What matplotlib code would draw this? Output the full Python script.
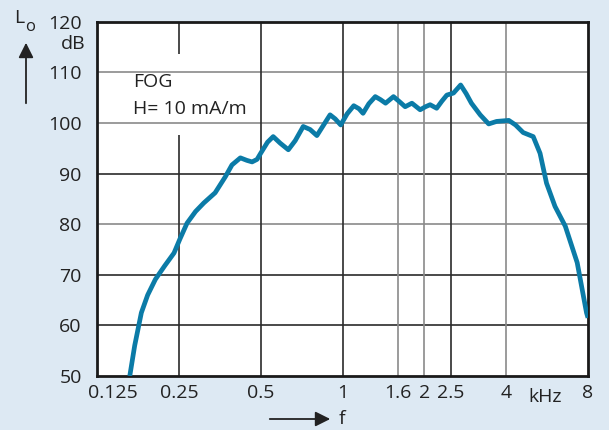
import matplotlib
matplotlib.use("Agg")
import matplotlib.pyplot as plt
import matplotlib.transforms as mtrans

# frequency (kHz) vs level (dB)
freq = [0.165, 0.172, 0.182, 0.192, 0.205, 0.222, 0.24, 0.252, 0.268, 0.288,
        0.309, 0.34, 0.371, 0.392, 0.421, 0.445, 0.465, 0.485, 0.5, 0.53,
        0.556, 0.59, 0.632, 0.67, 0.717, 0.76, 0.805, 0.85, 0.90, 0.94,
        0.985, 1.04, 1.10, 1.15, 1.19, 1.25, 1.32, 1.38, 1.44, 1.54,
        1.62, 1.70, 1.80, 1.93, 2.02, 2.1, 2.22, 2.32, 2.42, 2.56,
        2.72, 2.85, 2.98, 3.21, 3.45, 3.69, 4.09, 4.33, 4.62, 5.03,
        5.33, 5.63, 6.05, 6.6, 7.3, 7.9, 8.0]
level = [50, 56, 62.5, 66, 69.1, 71.8, 74.3, 77, 80.2, 82.5,
         84.2, 86.2, 89.4, 91.7, 93.1, 92.6, 92.3, 92.8, 94, 96.2,
         97.3, 96, 94.7, 96.5, 99.3, 98.7, 97.5, 99.5, 101.6, 100.8,
         99.6, 101.8, 103.4, 102.8, 101.9, 103.8, 105.2, 104.6, 103.9, 105.2,
         104.2, 103.2, 103.9, 102.6, 103.2, 103.6, 102.9, 104.3, 105.5, 105.9,
         107.5, 105.8, 103.9, 101.6, 99.8, 100.3, 100.5, 99.6, 98.1, 97.3,
         94, 88.1, 83.5, 79.6, 72.4, 62.5, 61.5]

xticks = [0.125, 0.25, 0.5, 1, 1.6, 2, 2.5, 4, 8]
xticklabels = ["0.125", "0.25", "0.5", "1", "1.6", "2", "2.5", "4", "8"]
yticks = [50, 60, 70, 80, 90, 100, 110, 120]

BG = "#dde9f3"
LINE = "#0b7ba7"
DARK = "#2b2b2b"
GREY = "#8a8a8a"
TXT = "#222222"
FS = 14

plt.rcParams["font.family"] = ["Open Sans", "DejaVu Sans"]

fig = plt.figure(figsize=(6.09, 4.30), dpi=100, facecolor=BG)
ax = fig.add_axes([97 / 609, 1 - 376 / 430, 491 / 609, 354.3 / 430])
ax.set_facecolor("white")
ax.set_xscale("log")
ax.set_xlim(0.125, 8)
ax.set_ylim(50, 120)

# grid, drawn by hand so the 0.25 line can leave room for the note
for y, c in zip([60, 70, 80, 90, 100, 110], [DARK, DARK, GREY, DARK, GREY, GREY]):
    ax.axhline(y, color=c, lw=1.2, zorder=1)
for x, c in zip([0.5, 1, 1.6, 2, 2.5, 4], [DARK, DARK, GREY, GREY, DARK, GREY]):
    ax.axvline(x, color=c, lw=1.2, zorder=1)
ax.vlines(0.25, 50, 97.6, color=DARK, lw=1.2, zorder=1)
ax.vlines(0.25, 113.6, 120, color=DARK, lw=1.2, zorder=1)

ax.plot(freq, level, color=LINE, lw=3.4, solid_joinstyle="round",
        solid_capstyle="butt", zorder=3)

ax.set_xticks(xticks)
ax.set_xticklabels(xticklabels)
ax.minorticks_off()
ax.set_yticks(yticks)
ax.tick_params(length=0, labelsize=FS, colors=TXT, pad=6)
ax.tick_params(axis="y", pad=11)
for s in ax.spines.values():
    s.set_linewidth(2)
    s.set_color("#1a1a1a")

# the first x label sits to the right of its tick, clear of the corner
first = ax.get_xticklabels()[0]
first.set_transform(first.get_transform() +
                    mtrans.ScaledTranslation(16 / 100, 0, fig.dpi_scale_trans))

ax.text(0.17, 108.1, "FOG", fontsize=FS, color=TXT, va="center")
ax.text(0.17, 102.8, "H= 10 mA/m", fontsize=FS, color=TXT, va="center")

# axis captions
fig.text(86 / 609, 1 - 44 / 430, "dB", fontsize=FS, ha="right", va="center", color=TXT)
fig.text(14 / 609, 1 - 18 / 430, r"L", fontsize=FS, ha="left", va="center", color=TXT)
fig.text(25 / 609, 1 - 27 / 430, r"o", fontsize=FS - 2, ha="left", va="center", color=TXT)
fig.add_artist(matplotlib.patches.FancyArrowPatch(
    (26 / 609, 1 - 106 / 430), (26 / 609, 1 - 40 / 430), transform=fig.transFigure,
    arrowstyle="-|>,head_length=6,head_width=3", color=TXT, lw=1.3,
    mutation_scale=1.5))
fig.text(545 / 609, 1 - 397 / 430, "kHz", fontsize=FS, ha="center", va="center", color=TXT)
fig.add_artist(matplotlib.patches.FancyArrowPatch(
    (267 / 609, 1 - 419 / 430), (333 / 609, 1 - 419 / 430), transform=fig.transFigure,
    arrowstyle="-|>,head_length=6,head_width=3", color=TXT, lw=1.3,
    mutation_scale=1.5))
fig.text(342 / 609, 1 - 419 / 430, "f", fontsize=FS, ha="center", va="center", color=TXT)

fig.savefig("out.png", dpi=100, facecolor=BG)
